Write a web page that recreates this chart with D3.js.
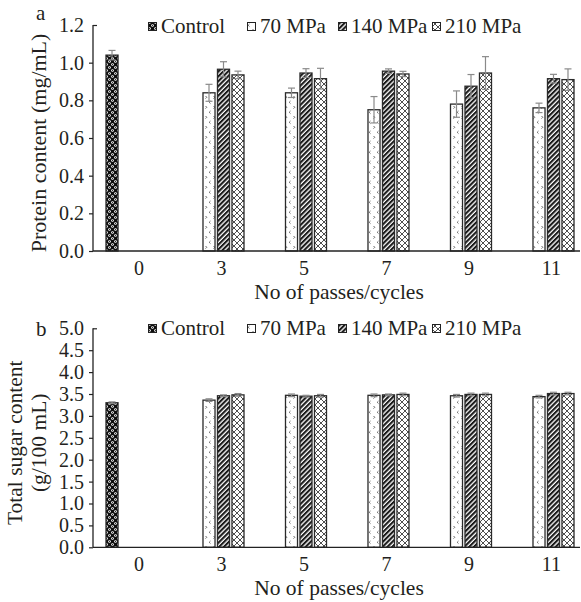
<!DOCTYPE html>
<html>
<head>
<meta charset="utf-8">
<script src="https://cdn.jsdelivr.net/npm/d3@7"></script>
<style>
  body { margin: 0; background: #fff; }
  svg { display: block; font-family: "Liberation Serif", "Times New Roman", serif; }
</style>
</head>
<body>
<div id="chart"></div>
<script>
// Categories and series
const passes = ['0', '3', '5', '7', '9', '11'];
const seriesNames = ['Control', '70 MPa', '140 MPa', '210 MPa'];

// Panel a: protein content (mg/mL), null = no bar
const proteinControl = [1.04, null, null, null, null, null];
const protein70 = [null, 0.84, 0.84, 0.75, 0.78, 0.76];
const protein140 = [null, 0.965, 0.945, 0.955, 0.875, 0.915];
const protein210 = [null, 0.935, 0.915, 0.94, 0.945, 0.91];
const proteinErrControl = [0.025, null, null, null, null, null];
const proteinErr70 = [null, 0.045, 0.025, 0.07, 0.07, 0.025];
const proteinErr140 = [null, 0.04, 0.023, 0.012, 0.062, 0.023];
const proteinErr210 = [null, 0.02, 0.055, 0.014, 0.087, 0.057];

// Panel b: total sugar content (g/100 mL)
const sugarControl = [3.30, null, null, null, null, null];
const sugar70 = [null, 3.36, 3.47, 3.47, 3.46, 3.44];
const sugar140 = [null, 3.46, 3.45, 3.48, 3.49, 3.51];
const sugar210 = [null, 3.48, 3.46, 3.49, 3.49, 3.51];
const sugarErrControl = [0.02, null, null, null, null, null];
const sugarErr70 = [null, 0.03, 0.03, 0.03, 0.03, 0.03];
const sugarErr140 = [null, 0.02, 0.02, 0.02, 0.03, 0.03];
const sugarErr210 = [null, 0.03, 0.03, 0.03, 0.03, 0.03];

// Tick labels
const proteinTicks = [0, 0.2, 0.4, 0.6, 0.8, 1.0, 1.2];
const sugarTicks = [0, 0.5, 1.0, 1.5, 2.0, 2.5, 3.0, 3.5, 4.0, 4.5, 5.0];

const textColor = '#231f20';
const fontFam = '"Liberation Serif", "Times New Roman", serif';
const W = 581, H = 602;

const svg = d3.select('#chart').append('svg')
  .attr('width', W)
  .attr('height', H);

// Fill patterns
const defs = svg.append('defs');

const pCtrl = defs.append('pattern').attr('id', 'p-control')
  .attr('patternUnits', 'userSpaceOnUse').attr('width', 6).attr('height', 6);
pCtrl.append('rect').attr('width', 6).attr('height', 6).attr('fill', '#0d0d0d');
[[1.5, 1.5], [4.5, 4.5]].forEach(([cx, cy]) => {
  pCtrl.append('circle').attr('cx', cx).attr('cy', cy).attr('r', 1.35).attr('fill', '#fff');
  pCtrl.append('circle').attr('cx', cx).attr('cy', cy).attr('r', 0.55).attr('fill', '#0d0d0d');
});

const p70 = defs.append('pattern').attr('id', 'p-70')
  .attr('patternUnits', 'userSpaceOnUse').attr('width', 8).attr('height', 10);
p70.append('rect').attr('width', 8).attr('height', 10).attr('fill', '#fff');
p70.append('path').attr('d', 'M2.5,1 L1.2,2.3 L2.5,3.6 M5.5,6 L6.8,7.3 L5.5,8.6')
  .attr('fill', 'none').attr('stroke', '#444').attr('stroke-width', 0.8);

const p140 = defs.append('pattern').attr('id', 'p-140')
  .attr('patternUnits', 'userSpaceOnUse').attr('width', 3.4).attr('height', 3.4)
  .attr('patternTransform', 'rotate(45)');
p140.append('rect').attr('width', 3.4).attr('height', 3.4).attr('fill', '#fff');
p140.append('rect').attr('width', 2.1).attr('height', 3.4).attr('fill', '#1a1a1a');

const p210 = defs.append('pattern').attr('id', 'p-210')
  .attr('patternUnits', 'userSpaceOnUse').attr('width', 6).attr('height', 6);
p210.append('rect').attr('width', 6).attr('height', 6).attr('fill', '#fff');
p210.append('path').attr('d', 'M0,0 L6,6 M6,0 L0,6')
  .attr('stroke', '#222').attr('stroke-width', 0.8);

const fills = ['url(#p-control)', 'url(#p-70)', 'url(#p-140)', 'url(#p-210)'];

// Shared x scales
const x = d3.scaleBand().domain(passes).range([97.75, 592.75]);
const xs = d3.scaleBand().domain(seriesNames).range([-33, 22.5]).paddingInner(0.17);

function drawPanel(opts) {
  const { letter, letterY, top, bottom, maxY, ticks, means, errs, yTitle, yTitleX, yTitleSize, legendY, tickFmt } = opts;
  const y = d3.scaleLinear().domain([0, maxY]).range([bottom, top]);
  const axisX = 93;
  const g = svg.append('g').style('font-family', fontFam);

  // Bars
  means.forEach((vals, si) => {
    const data = passes.map((p, i) => ({ p, v: vals[i], e: errs[si][i] })).filter(d => d.v != null);
    g.selectAll(null)
      .data(data)
      .enter()
      .append('rect')
      .attr('x', d => x(d.p) + x.bandwidth() / 2 + xs(seriesNames[si]))
      .attr('y', d => y(d.v))
      .attr('width', xs.bandwidth())
      .attr('height', d => y(0) - y(d.v))
      .attr('fill', fills[si])
      .attr('stroke', '#2a2a2a')
      .attr('stroke-width', 1.3);

    // Error bars
    const eg = g.selectAll(null)
      .data(data)
      .enter()
      .append('g')
      .attr('stroke', '#8a8a8a')
      .attr('stroke-width', 1.2);
    const cx = d => x(d.p) + x.bandwidth() / 2 + xs(seriesNames[si]) + xs.bandwidth() / 2;
    eg.append('line')
      .attr('x1', cx).attr('x2', cx)
      .attr('y1', d => y(d.v - d.e)).attr('y2', d => y(d.v + d.e));
    eg.append('line')
      .attr('x1', d => cx(d) - 3.5).attr('x2', d => cx(d) + 3.5)
      .attr('y1', d => y(d.v + d.e)).attr('y2', d => y(d.v + d.e));
    eg.append('line')
      .attr('x1', d => cx(d) - 3.5).attr('x2', d => cx(d) + 3.5)
      .attr('y1', d => y(d.v - d.e)).attr('y2', d => y(d.v - d.e));
  });

  // Y axis
  const yAxis = g.append('g')
    .attr('transform', `translate(${axisX},0)`)
    .call(d3.axisLeft(y).tickValues(ticks).tickFormat(tickFmt).tickSize(4).tickPadding(5));
  yAxis.attr('font-family', null).attr('font-size', null);
  yAxis.select('.domain').remove();
  yAxis.selectAll('.tick line').attr('stroke', '#222').attr('stroke-width', 1.2);
  yAxis.selectAll('.tick text')
    .attr('fill', textColor)
    .style('font-size', '20px')
    .style('font-family', fontFam);
  // top tick points inward
  yAxis.selectAll('.tick').filter(d => d === maxY).select('line').attr('x2', 4);
  g.append('line')
    .attr('x1', axisX).attr('x2', axisX)
    .attr('y1', y(maxY)).attr('y2', y(0))
    .attr('stroke', '#222').attr('stroke-width', 1.3);

  // X axis baseline and labels
  g.append('line')
    .attr('x1', axisX).attr('x2', 580)
    .attr('y1', y(0)).attr('y2', y(0))
    .attr('stroke', '#222').attr('stroke-width', 1.3);
  g.selectAll(null)
    .data(passes)
    .enter()
    .append('text')
    .attr('x', d => x(d) + x.bandwidth() / 2)
    .attr('y', y(0) + 24)
    .attr('text-anchor', 'middle')
    .attr('fill', textColor)
    .style('font-size', '20px')
    .text(d => d);

  g.append('text')
    .attr('x', 339)
    .attr('y', y(0) + 48)
    .attr('text-anchor', 'middle')
    .attr('fill', textColor)
    .style('font-size', '21.5px')
    .text('No of passes/cycles');

  // Y title (one or more lines)
  const midY = (top + bottom) / 2 + 5;
  yTitle.forEach((line, i) => {
    g.append('text')
      .attr('transform', `translate(${yTitleX[i]},${midY}) rotate(-90)`)
      .attr('text-anchor', 'middle')
      .attr('fill', textColor)
      .style('font-size', yTitleSize + 'px')
      .text(line);
  });

  // Panel letter
  g.append('text')
    .attr('x', 36)
    .attr('y', letterY)
    .attr('fill', textColor)
    .style('font-size', '21px')
    .text(letter);

  // Legend
  const legendX = [148, 247, 338, 432];
  seriesNames.forEach((name, i) => {
    const lg = g.append('g').attr('transform', `translate(${legendX[i]},${legendY})`);
    lg.append('rect')
      .attr('x', 0.5).attr('y', -10.5)
      .attr('width', 8).attr('height', 8)
      .attr('fill', fills[i])
      .attr('stroke', '#222').attr('stroke-width', 1);
    lg.append('text')
      .attr('x', 13)
      .attr('y', 0)
      .attr('fill', textColor)
      .style('font-size', '21px')
      .text(name);
  });
}

drawPanel({
  letter: 'a', letterY: 20, top: 25, bottom: 251, maxY: 1.2, ticks: proteinTicks,
  means: [proteinControl, protein70, protein140, protein210],
  errs: [proteinErrControl, proteinErr70, proteinErr140, proteinErr210],
  yTitle: ['Protein content (mg/mL)'], yTitleX: [46], yTitleSize: 22, legendY: 33,
  tickFmt: d3.format('.1f')
});

drawPanel({
  letter: 'b', letterY: 336, top: 328.3, bottom: 547.3, maxY: 5.0, ticks: sugarTicks,
  means: [sugarControl, sugar70, sugar140, sugar210],
  errs: [sugarErrControl, sugarErr70, sugarErr140, sugarErr210],
  yTitle: ['Total sugar content', '(g/100 mL)'], yTitleX: [22, 46], yTitleSize: 21.5, legendY: 335,
  tickFmt: d3.format('.1f')
});
</script>
</body>
</html>
